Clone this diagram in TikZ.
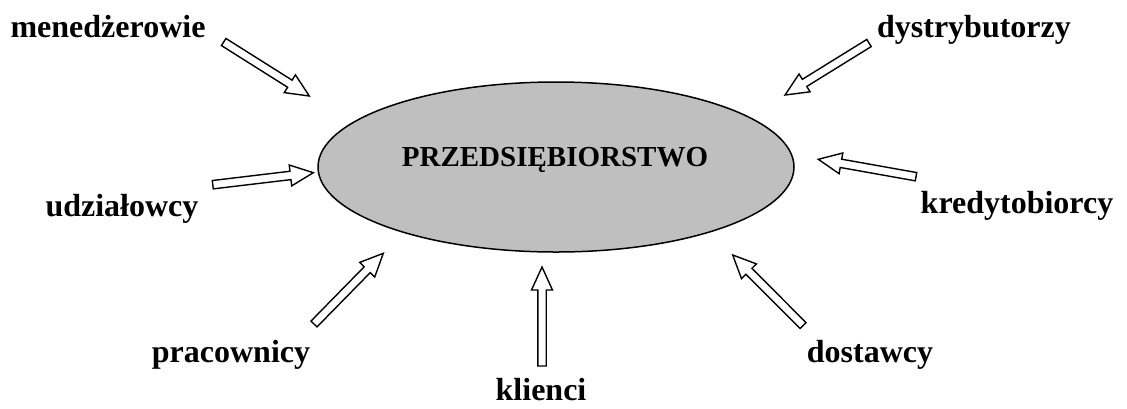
\documentclass[tikz,border=0pt]{standalone}
\usepackage{fontspec}
\setmainfont{Liberation Serif}
\usetikzlibrary{calc,shapes.geometric}

\tikzset{
  label/.style={font=\fontsize{32}{32}\selectfont\bfseries, anchor=base, inner sep=0pt},
  title/.style={font=\fontsize{29}{29}\selectfont\bfseries, anchor=base, inner sep=0pt},
  firm/.style={draw=black, line width=1.5pt, fill=black!25, ellipse, minimum width=476pt, minimum height=170pt},
  blockarrow/.style={draw=black, line width=1.4pt, fill=white, line join=miter},
}

% hollow block arrow from tail #1 to tip #2
\newcommand\hollowarrow[2]{%
  \coordinate (#1neck) at ($(#2)!23pt!(#1)$);
  \draw[blockarrow]
    ($(#1)!4.2pt!90:(#2)$) -- ($(#1neck)!4.2pt!90:(#2)$) -- ($(#1neck)!10.5pt!90:(#2)$)
    -- (#2)
    -- ($(#1neck)!10.5pt!-90:(#2)$) -- ($(#1neck)!4.2pt!-90:(#2)$) -- ($(#1)!4.2pt!-90:(#2)$) -- cycle;}

\begin{document}
\begin{tikzpicture}[x=1pt, y=-1pt]
  \useasboundingbox (0,0) rectangle (1127,408);

  % the company in the middle
  \node[firm] (firm) at (556,167) {};
  \node[title] (name) at (555,166) {PRZEDSIĘBIORSTWO};

  % stakeholder labels
  \node[label] (men) at (108,37) {menedżerowie};
  \node[label] (udz) at (122,216) {udziałowcy};
  \node[label] (pra) at (231,362) {pracownicy};
  \node[label] (kli) at (541,400) {klienci};
  \node[label] (dos) at (870,362) {dostawcy};
  \node[label] (kre) at (1017,213) {kredytobiorcy};
  \node[label] (dys) at (974,37) {dystrybutorzy};

  % arrow ends
  \coordinate (menT) at (223.7,42);   \coordinate (menH) at (309.3,96);
  \coordinate (udzT) at (212.8,184.7); \coordinate (udzH) at (313.3,172.7);
  \coordinate (praT) at (314,324);    \coordinate (praH) at (383.3,253.3);
  \coordinate (kliT) at (542,366);    \coordinate (kliH) at (542,267);
  \coordinate (dosT) at (803,325.5);  \coordinate (dosH) at (732.7,255);
  \coordinate (kreT) at (916,176.7);  \coordinate (kreH) at (818.3,159.3);
  \coordinate (dysT) at (869,43);     \coordinate (dysH) at (785,95);

  \hollowarrow{menT}{menH}
  \hollowarrow{udzT}{udzH}
  \hollowarrow{praT}{praH}
  \hollowarrow{kliT}{kliH}
  \hollowarrow{dosT}{dosH}
  \hollowarrow{kreT}{kreH}
  \hollowarrow{dysT}{dysH}
\end{tikzpicture}
\end{document}
